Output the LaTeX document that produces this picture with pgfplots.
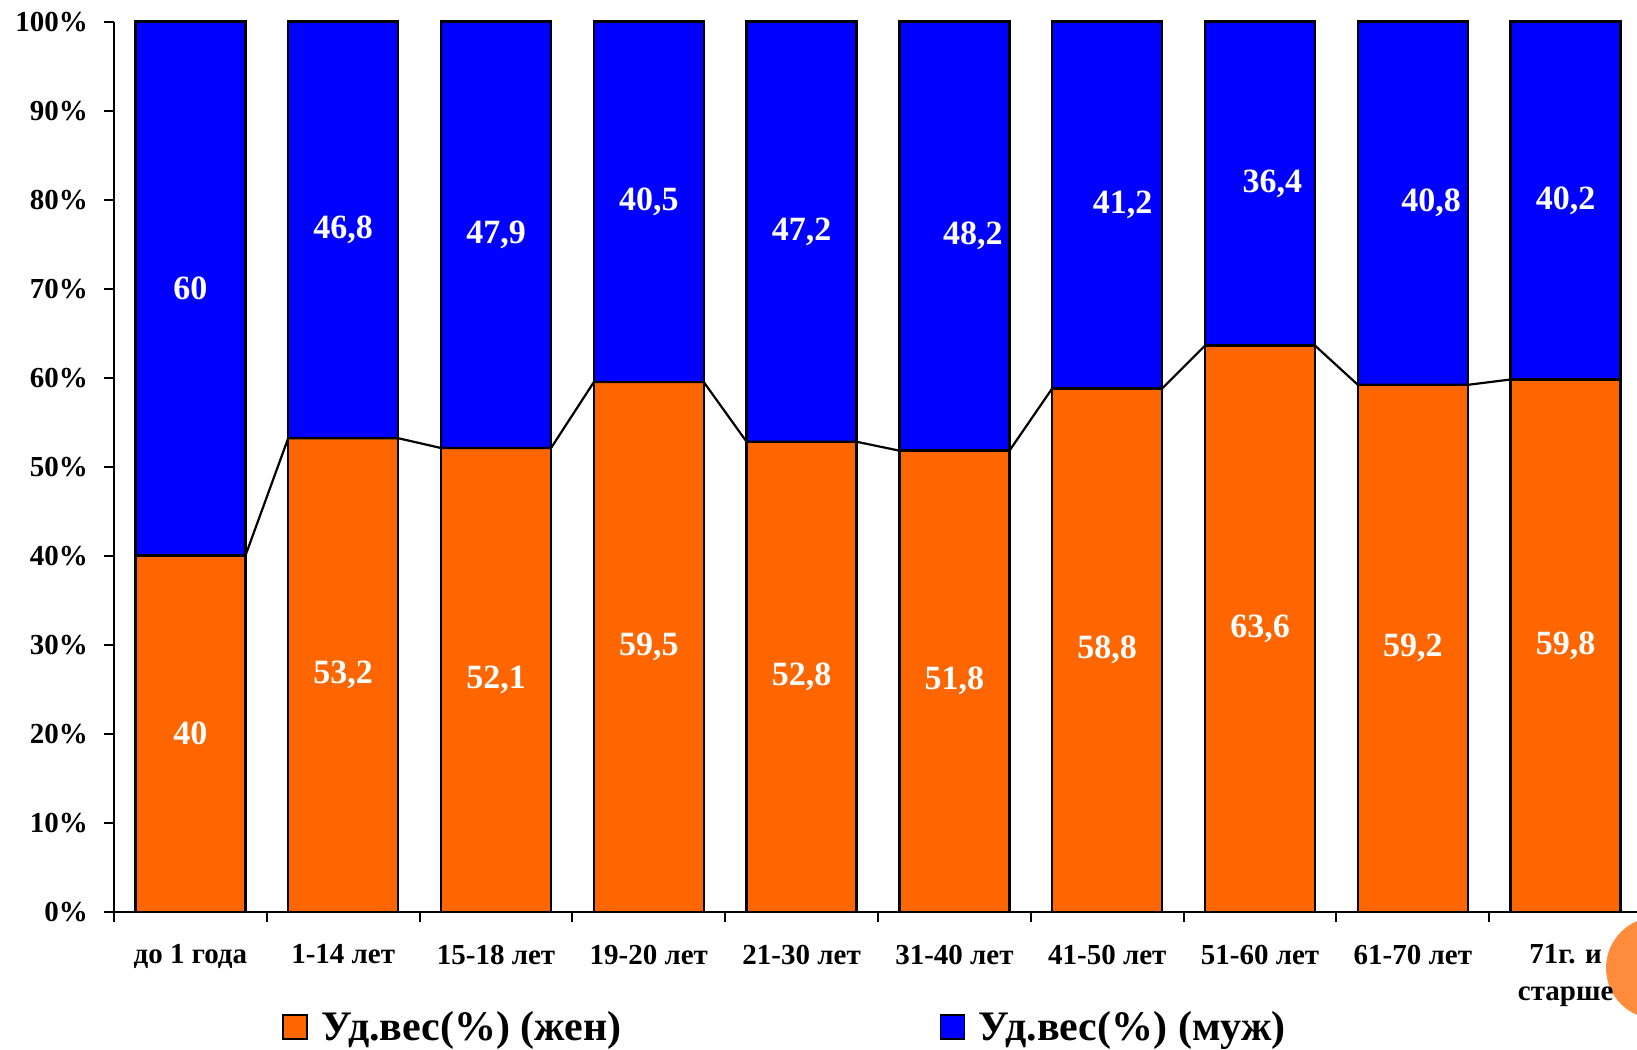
\documentclass[border=0pt]{standalone}
\usepackage{fontspec}
\setmainfont{Liberation Serif}
\usepackage{pgfplots}
\pgfplotsset{compat=1.18}
\definecolor{zhen}{RGB}{255,102,0}
\definecolor{muzh}{RGB}{0,0,255}
\definecolor{krug}{RGB}{255,140,60}

\begin{document}
\begin{tikzpicture}
\clip (0,0) rectangle (818.5pt,524.5pt);
% decorative circle of the slide, bottom right
\fill[krug] (828.5pt,40.5pt) circle (25.5pt);
\begin{axis}[
  at={(57pt,68.65pt)}, anchor=south west,
  scale only axis, width=761.5pt, height=445pt,
  xmin=-0.5, xmax=9.467, ymin=0, ymax=100,
  clip=false,
  axis x line=bottom, axis y line=left,
  axis line style={-, line width=1.2pt, black},
  xtick={0,...,9},
  xticklabels={до 1 года, 1-14 лет, 15-18 лет, 19-20 лет, 21-30 лет, 31-40 лет, 41-50 лет, 51-60 лет, 61-70 лет, {71г. и\\старше}},
  major x tick style={draw=none},
  minor xtick={-0.5,0.5,...,8.5},
  ytick={0,10,...,100},
  yticklabel={\pgfmathprintnumber{\tick}\%},
  tick align=outside,
  major tick length=5pt, minor tick length=5pt,
  tick style={line width=1pt, black},
  /pgf/number format/assume math mode=true,
  ticklabel style={font=\fontsize{14.5}{18.5}\selectfont\bfseries},
  xticklabel style={align=center, yshift=-8pt},
  yticklabel style={xshift=-4.5pt},
  legend image code/.code={\draw[#1, draw=black, line width=0.6pt] (0pt,-6pt) rectangle (12pt,6pt); \path (17pt,0pt);},
  legend columns=2,
  legend style={draw=none, fill=none, inner sep=0pt,
    at={(0.1103,-0.1296)}, anchor=west,
    font=\fontsize{21}{24}\selectfont\bfseries,
    /tikz/every even column/.append style={column sep=157pt}},
]
\addlegendimage{fill=zhen}
\addlegendentry{Уд.вес(\%) (жен)}
\addlegendimage{fill=muzh}
\addlegendentry{Уд.вес(\%) (муж)}

% men: full column, women drawn over it
\addplot[ybar, bar width=0.72, bar shift=0pt, fill=muzh, draw=black, line width=1.2pt, forget plot]
  coordinates {(0,100) (1,100) (2,100) (3,100) (4,100) (5,100) (6,100) (7,100) (8,100) (9,100)};
\addplot[ybar, bar width=0.72, bar shift=0pt, fill=zhen, draw=black, line width=1.2pt, forget plot]
  coordinates {(0,40) (1,53.2) (2,52.1) (3,59.5) (4,52.8) (5,51.8) (6,58.8) (7,63.6) (8,59.2) (9,59.8)};

% series lines
\addplot[black, line width=1.1pt, mark=none, forget plot] coordinates {
  (-0.36,40) (0.36,40) (0.64,53.2) (1.36,53.2) (1.64,52.1) (2.36,52.1)
  (2.64,59.5) (3.36,59.5) (3.64,52.8) (4.36,52.8) (4.64,51.8) (5.36,51.8)
  (5.64,58.8) (6.36,58.8) (6.64,63.6) (7.36,63.6) (7.64,59.2) (8.36,59.2)
  (8.64,59.8) (9.36,59.8)};

% value labels
\pgfplotsset{lbl/.style={draw=none, mark=none, forget plot, point meta=explicit,
  nodes near coords={\pgfmathprintnumber[use comma]{\pgfplotspointmeta}},
  every node near coord/.append style={anchor=center, text=white,
    font=\fontsize{17}{20}\selectfont\bfseries}}}
\addplot[lbl] coordinates {
  (0,20) [40] (1,26.6) [53.2] (2,26.05) [52.1] (3,29.75) [59.5] (4,26.4) [52.8]
  (5,25.9) [51.8] (6,29.4) [58.8] (7,31.8) [63.6] (8,29.6) [59.2] (9,29.9) [59.8]};
\addplot[lbl] coordinates {
  (0,70) [60] (1,76.6) [46.8] (2,76.05) [47.9] (3,79.75) [40.5] (4,76.4) [47.2]
  (5.12,75.9) [48.2] (6.1,79.4) [41.2] (7.08,81.8) [36.4] (8.12,79.6) [40.8] (9,79.9) [40.2]};
\end{axis}
\end{tikzpicture}
\end{document}
